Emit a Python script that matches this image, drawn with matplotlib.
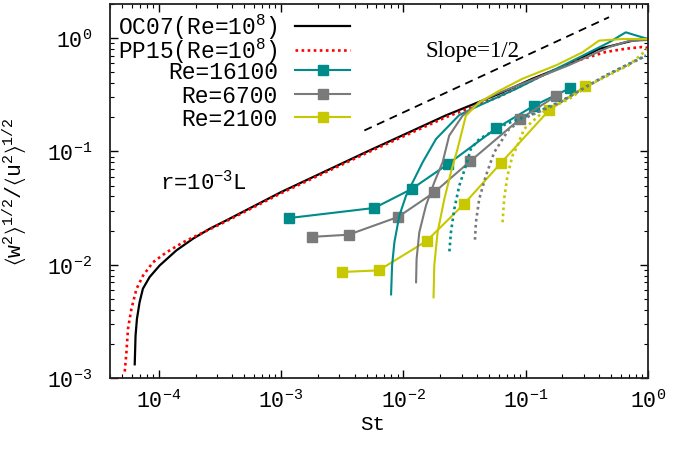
import matplotlib
matplotlib.use("Agg")
import matplotlib.pyplot as plt
import numpy as np

plt.rcParams['font.family'] = ['Liberation Mono', 'DejaVu Sans']
plt.rcParams['mathtext.fontset'] = 'custom'
plt.rcParams['mathtext.rm'] = 'Liberation Mono'
plt.rcParams['mathtext.it'] = 'Liberation Mono'
plt.rcParams['mathtext.default'] = 'regular'

# ---------------- data ----------------
# OC07 (Re=1e8)
oc07_st = [6.37e-5, 6.47e-5, 6.64e-5, 6.98e-5, 7.43e-5, 8.43e-5, 1.02e-4, 1.395e-4,
           1.905e-4, 2.61e-4, 3.57e-4, 1.004e-3, 4.97e-3, 0.0223, 0.0608, 0.1138,
           0.213, 0.398, 0.745, 1.0]
oc07_w = [1.32e-3, 2.36e-3, 3.32e-3, 4.66e-3, 6.14e-3, 7.78e-3, 9.86e-3, 0.01337,
          0.01695, 0.02075, 0.0246, 0.0438, 0.0988, 0.208, 0.323, 0.438,
          0.574, 0.803, 0.948, 0.982]
# PP15 (Re=1e8)
pp15_st = [5.28e-5, 5.45e-5, 5.61e-5, 5.98e-5, 6.58e-5, 7.44e-5, 8.98e-5, 1.156e-4,
           1.578e-4, 2.03e-4, 3.57e-4, 1.004e-3, 4.97e-3, 0.0223, 0.0608, 0.129,
           0.241, 0.452, 0.658, 0.893, 1.0]
pp15_w = [1.14e-3, 1.69e-3, 2.71e-3, 4.06e-3, 6.10e-3, 8.00e-3, 0.0105, 0.01285,
          0.01574, 0.0180, 0.0242, 0.0428, 0.0964, 0.2005, 0.304, 0.454,
          0.615, 0.754, 0.806, 0.834, 0.818]

# DNS with markers
re16100_st = [1.16e-3, 5.8e-3, 0.0117, 0.0232, 0.0574, 0.116, 0.232]
re16100_w = [0.0258, 0.0317, 0.0466, 0.0774, 0.1596, 0.252, 0.363]
re6700_st = [1.78e-3, 3.57e-3, 9.06e-3, 0.0179, 0.0354, 0.0897, 0.177]
re6700_w = [0.0176, 0.0184, 0.0264, 0.0435, 0.0823, 0.193, 0.308]
re2100_st = [3.13e-3, 6.28e-3, 0.0155, 0.0313, 0.0628, 0.156, 0.306]
re2100_w = [8.62e-3, 8.91e-3, 0.0162, 0.0343, 0.0790, 0.232, 0.375]

# solid model curves (no markers)
s16100_st = [7.94e-3, 8.09e-3, 8.45e-3, 9.27e-3, 0.01052, 0.01191, 0.01438, 0.01849,
             0.02866, 0.04437, 0.0832, 0.1556, 0.291, 0.481, 0.658, 0.898, 1.0]
s16100_w = [5.47e-3, 9.86e-3, 0.01577, 0.02705, 0.0406, 0.0533, 0.0802, 0.1286,
            0.2095, 0.262, 0.356, 0.499, 0.698, 0.918, 1.125, 1.016, 0.982]
s6700_st = [0.01271, 0.01283, 0.0135, 0.0153, 0.0179, 0.02094, 0.0237, 0.0305,
            0.0417, 0.0571, 0.1069, 0.2265, 0.481, 0.700, 1.0]
s6700_w = [7.00e-3, 0.01122, 0.0193, 0.0332, 0.0533, 0.0802, 0.1377, 0.2066,
           0.271, 0.321, 0.418, 0.578, 0.834, 0.943, 0.962]
s2100_st = [0.01766, 0.0179, 0.01905, 0.02163, 0.02449, 0.02773, 0.03245, 0.0417,
            0.0608, 0.0942, 0.1766, 0.291, 0.398, 0.617, 1.0]
s2100_w = [5.15e-3, 9.86e-3, 0.0193, 0.0380, 0.0654, 0.105, 0.2066, 0.271,
           0.343, 0.438, 0.574, 0.749, 0.950, 0.982, 0.982]

# dotted model curves
d16100_st = [0.0238, 0.02449, 0.0261, 0.02866, 0.03245, 0.0356, 0.0417, 0.0689,
             0.1138, 0.1875, 0.310, 0.452, 0.658, 0.96]
d16100_w = [0.01312, 0.0193, 0.0310, 0.0498, 0.0748, 0.105, 0.1286, 0.1745,
            0.214, 0.271, 0.370, 0.469, 0.574, 0.703]
d6700_st = [0.0385, 0.0392, 0.0417, 0.0473, 0.0553, 0.0733, 0.1069, 0.1875,
            0.310, 0.452, 0.658, 0.96]
d6700_w = [0.01663, 0.0237, 0.0380, 0.0610, 0.0982, 0.158, 0.205, 0.267,
           0.370, 0.465, 0.570, 0.695]
d2100_st = [0.0647, 0.0667, 0.0710, 0.078, 0.0832, 0.0973, 0.1416, 0.2265,
            0.330, 0.481, 0.700, 1.0]
d2100_w = [0.0237, 0.0380, 0.0610, 0.0916, 0.105, 0.158, 0.2274, 0.290,
           0.386, 0.472, 0.579, 0.806]

# slope 1/2 guide
slope_st = [4.8e-3, 0.48]
slope_w = [0.153, 1.53]

xticks = [1e-4, 1e-3, 1e-2, 1e-1, 1e0]
xticklabels = [r'$10^{-4}$', r'$10^{-3}$', r'$10^{-2}$', r'$10^{-1}$', r'$10^{0}$']
yticks = [1e-3, 1e-2, 1e-1, 1e0]
yticklabels = [r'$10^{-3}$', r'$10^{-2}$', r'$10^{-1}$', r'$10^{0}$']

legend_labels = [r'OC07(Re=10$^{8}$)', r'PP15(Re=10$^{8}$)', 'Re=16100', 'Re=6700', 'Re=2100']

TEAL = '#008b8b'
GRAY = '#7a7a7a'
YEL = '#c8c800'

fig = plt.figure(figsize=(6.94, 4.56), dpi=100)
ax = fig.add_axes([110/694, 1 - 379/456, (648 - 110)/694, (379 - 5)/456])

dots = (0, (1, 1.3))
h0, = ax.plot(oc07_st, oc07_w, color='black', lw=1.6, label=legend_labels[0])
h1, = ax.plot(pp15_st, pp15_w, color='red', lw=1.9, linestyle=dots, label=legend_labels[1])
h2, = ax.plot(re16100_st, re16100_w, color=TEAL, lw=1.5, marker='s', ms=7, label=legend_labels[2])
h3, = ax.plot(re6700_st, re6700_w, color=GRAY, lw=1.5, marker='s', ms=7, label=legend_labels[3])
h4, = ax.plot(re2100_st, re2100_w, color=YEL, lw=1.5, marker='s', ms=7, label=legend_labels[4])

ax.plot(s16100_st, s16100_w, color=TEAL, lw=1.5)
ax.plot(s6700_st, s6700_w, color=GRAY, lw=1.5)
ax.plot(s2100_st, s2100_w, color=YEL, lw=1.5)
ax.plot(d16100_st, d16100_w, color=TEAL, lw=1.9, linestyle=dots)
ax.plot(d6700_st, d6700_w, color=GRAY, lw=1.9, linestyle=dots)
ax.plot(d2100_st, d2100_w, color=YEL, lw=1.9, linestyle=dots)

ax.plot(slope_st, slope_w, color='black', lw=1.3, linestyle=(0, (4.5, 3.2)))

ax.set_xscale('log')
ax.set_yscale('log')
ax.set_xlim(4e-5, 1.0)
ax.set_ylim(1e-3, 2.0)
ax.set_xticks(xticks)
ax.set_xticklabels(xticklabels)
ax.set_yticks(yticks)
ax.set_yticklabels(yticklabels)
ax.tick_params(which='both', direction='in', top=True, right=True, labelsize=15.5)
ax.tick_params(which='major', length=6, width=1.0)
ax.tick_params(which='minor', length=3, width=0.8)
ax.tick_params(axis='x', which='major', pad=8)
ax.tick_params(axis='y', which='major', pad=13)
for sp in ax.spines.values():
    sp.set_linewidth(1.3)
    sp.set_color('#222222')

ax.set_xlabel('St', fontsize=15)
ax.xaxis.set_label_coords(0.489, -0.095)
ax.set_ylabel(r'$\langle$w$^{2}\rangle^{1/2}$/$\langle$u$^{2}\rangle^{1/2}$', fontsize=15.5)
ax.yaxis.set_label_coords(-0.15, 0.5)

ax.text(0.093, 0.525, r'r=10$^{-3}$L', transform=ax.transAxes, fontsize=16, va='center', ha='left')
ax.text(0.673, 0.875, 'Slope=1/2', transform=ax.transAxes, fontsize=16.5,
        family='Liberation Serif', va='center', ha='center')

leg_kw = dict(frameon=False, markerfirst=False, fontsize=16.5, handlelength=2.4,
              handletextpad=0.75, borderaxespad=0.1, borderpad=0.2, loc='upper right')
legA = ax.legend(handles=[h0, h1], bbox_to_anchor=(0.459, 0.998), labelspacing=-0.24, **leg_kw)
for vp in legA._legend_box._children[-1]._children:
    vp.align = 'right'
ax.add_artist(legA)
legB = ax.legend(handles=[h2, h3, h4], bbox_to_anchor=(0.459, 0.868), labelspacing=0.02, **leg_kw)
for vp in legB._legend_box._children[-1]._children:
    vp.align = 'right'

fig.savefig('out.png', dpi=100)
